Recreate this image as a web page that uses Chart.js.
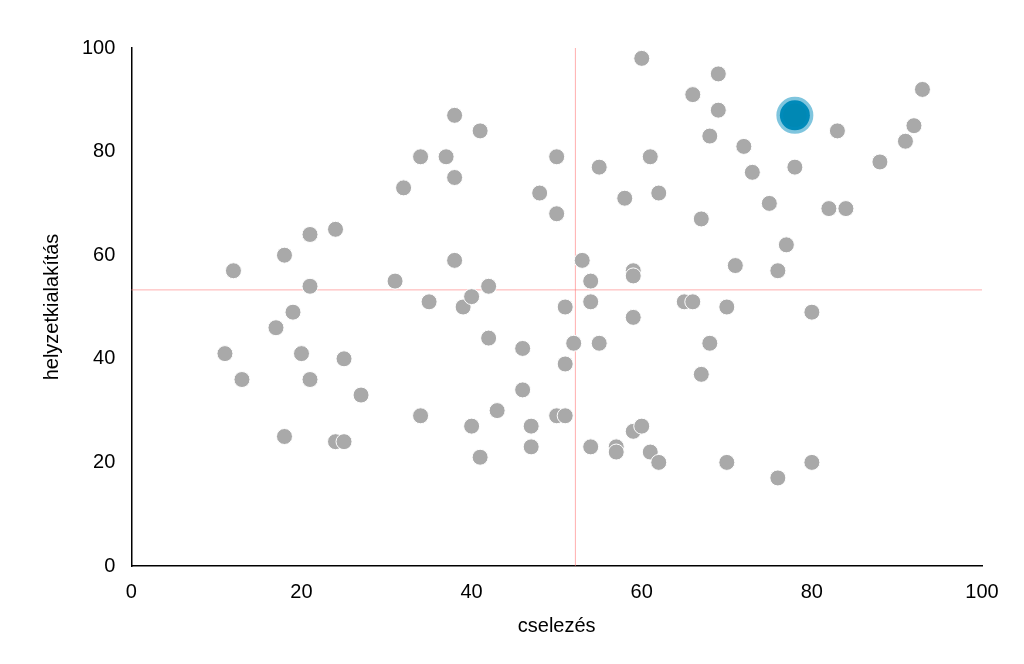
<!DOCTYPE html>
<html>
<head>
<meta charset="utf-8">
<script src="https://cdn.jsdelivr.net/npm/chart.js@4"></script>
<style>
  body { margin: 0; background: #fff; }
  #wrap { width: 1024px; height: 664px; }
</style>
</head>
<body>
<div id="wrap"><canvas id="myChart" width="1024" height="664"></canvas></div>
<script>
// Data
const dribbling = [11,12,13,17,18,18,19,20,21,21,21,24,24,25,25,27,31,32,34,34,35,37,38,38,38,39,40,40,41,41,42,42,43,46,46,47,47,48,50,50,50,51,51,51,52,53,54,54,54,55,55,57,57,58,59,59,59,59,60,60,61,61,62,62,65,66,66,67,67,68,68,69,69,70,70,71,72,73,75,76,76,77,78,80,80,82,83,84,88,91,92,93];
const positioning = [41,57,36,46,60,25,49,41,64,54,36,65,24,24,40,33,55,73,79,29,51,79,87,75,59,50,52,27,84,21,54,44,30,42,34,27,23,72,79,68,29,29,50,39,43,59,55,51,23,77,43,23,22,71,57,56,48,26,98,27,79,22,72,20,51,51,91,67,37,83,43,95,88,50,20,58,81,76,70,57,17,62,77,49,20,69,84,69,78,82,85,92];
const highlight = [78, 87];
const meanX = 52.2;
const meanY = 53.3;

const others = dribbling.map((x, i) => ({ x: x, y: positioning[i] }));

// mean lines
const meanLines = {
    id: 'meanLines',
    beforeDatasetsDraw(chart) {
        const { ctx, chartArea, scales } = chart;
        const px = scales.x.getPixelForValue(meanX);
        const py = scales.y.getPixelForValue(meanY);
        ctx.save();
        ctx.strokeStyle = 'rgba(255,120,120,0.6)';
        ctx.lineWidth = 1;
        ctx.beginPath();
        ctx.moveTo(px, chartArea.top);
        ctx.lineTo(px, chartArea.bottom);
        ctx.moveTo(chartArea.left, py);
        ctx.lineTo(chartArea.right, py);
        ctx.stroke();
        ctx.restore();
    }
};

const font = { family: 'Liberation Sans, Arial, sans-serif', size: 20 };

new Chart("myChart", {
    type: 'scatter',
    data: {
        datasets: [{
            data: others,
            backgroundColor: '#a9a9a9',
            borderColor: '#ffffff',
            borderWidth: 1,
            pointRadius: 8,
            order: 2
        }, {
            data: [{ x: highlight[0], y: highlight[1] }],
            backgroundColor: '#0088b4',
            borderColor: 'rgba(0,140,190,0.5)',
            borderWidth: 7,
            pointRadius: 15,
            order: 1
        }]
    },
    options: {
        responsive: false,
        animation: false,
        devicePixelRatio: 1,
        layout: { padding: { left: 30, right: 42, top: 48, bottom: 22 } },
        plugins: { legend: { display: false }, tooltip: { enabled: false } },
        scales: {
            x: {
                min: 0, max: 100,
                grid: { display: false, tickLength: 8 },
                border: { color: '#000', width: 1.5 },
                ticks: { stepSize: 20, color: '#000', font: font, padding: 6 },
                title: { display: true, text: 'cselezés', color: '#000', font: font, padding: 4 }
            },
            y: {
                min: 0, max: 100,
                grid: { display: false, tickLength: 8 },
                border: { color: '#000', width: 1.5 },
                ticks: { stepSize: 20, color: '#000', font: font, padding: 8 },
                title: { display: true, text: 'helyzetkialakítás', color: '#000', font: font, padding: 10 }
            }
        }
    },
    plugins: [meanLines]
});
</script>
</body>
</html>
